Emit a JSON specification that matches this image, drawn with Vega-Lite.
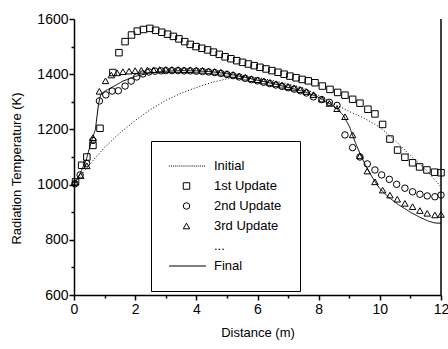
{
  "$schema": "https://vega.github.io/schema/vega-lite/v6.json",
  "width": 367,
  "height": 276,
  "autosize": "none",
  "padding": {"left": 74, "top": 19, "right": 7, "bottom": 54},
  "background": "white",
  "config": {
    "view": {"stroke": null},
    "font": "Liberation Sans",
    "axis": {
      "domainColor": "black", "tickColor": "black", "labelColor": "black", "titleColor": "black",
      "labelFontSize": 14, "titleFontSize": 13, "titleFontWeight": "normal",
      "labelFont": "Liberation Sans", "titleFont": "Liberation Sans",
      "domainWidth": 1.5, "tickWidth": 1.5, "grid": false, "labelFlush": false
    }
  },
  "datasets": {
    "curves": [
      {"s": "Initial", "x": 0, "y": 1000}, {"s": "Initial", "x": 0.5, "y": 1072}, {"s": "Initial", "x": 1.0, "y": 1135},
      {"s": "Initial", "x": 1.5, "y": 1187}, {"s": "Initial", "x": 2.0, "y": 1232}, {"s": "Initial", "x": 2.5, "y": 1272},
      {"s": "Initial", "x": 3.0, "y": 1305}, {"s": "Initial", "x": 3.5, "y": 1331}, {"s": "Initial", "x": 4.0, "y": 1352},
      {"s": "Initial", "x": 4.5, "y": 1370}, {"s": "Initial", "x": 5.0, "y": 1383}, {"s": "Initial", "x": 5.5, "y": 1391},
      {"s": "Initial", "x": 6.0, "y": 1388}, {"s": "Initial", "x": 6.5, "y": 1377}, {"s": "Initial", "x": 7.0, "y": 1365},
      {"s": "Initial", "x": 7.5, "y": 1350}, {"s": "Initial", "x": 8.0, "y": 1323}, {"s": "Initial", "x": 8.5, "y": 1292},
      {"s": "Initial", "x": 9.0, "y": 1265}, {"s": "Initial", "x": 9.5, "y": 1240}, {"s": "Initial", "x": 10.0, "y": 1208},
      {"s": "Initial", "x": 10.5, "y": 1160}, {"s": "Initial", "x": 11.0, "y": 1105}, {"s": "Initial", "x": 11.5, "y": 1055},
      {"s": "Initial", "x": 12.0, "y": 992},
      {"s": "Final", "x": 0, "y": 1000}, {"s": "Final", "x": 0.2, "y": 1040}, {"s": "Final", "x": 0.4, "y": 1090},
      {"s": "Final", "x": 0.55, "y": 1150}, {"s": "Final", "x": 0.7, "y": 1200}, {"s": "Final", "x": 0.8, "y": 1290},
      {"s": "Final", "x": 0.87, "y": 1326}, {"s": "Final", "x": 1.0, "y": 1338}, {"s": "Final", "x": 1.3, "y": 1356},
      {"s": "Final", "x": 1.6, "y": 1375}, {"s": "Final", "x": 2.0, "y": 1392}, {"s": "Final", "x": 2.5, "y": 1405},
      {"s": "Final", "x": 3.0, "y": 1411}, {"s": "Final", "x": 3.5, "y": 1413}, {"s": "Final", "x": 4.0, "y": 1412},
      {"s": "Final", "x": 4.5, "y": 1409}, {"s": "Final", "x": 5.0, "y": 1402}, {"s": "Final", "x": 5.5, "y": 1391},
      {"s": "Final", "x": 6.0, "y": 1378}, {"s": "Final", "x": 6.5, "y": 1366}, {"s": "Final", "x": 7.0, "y": 1352},
      {"s": "Final", "x": 7.5, "y": 1338}, {"s": "Final", "x": 8.0, "y": 1316}, {"s": "Final", "x": 8.5, "y": 1284},
      {"s": "Final", "x": 8.8, "y": 1252}, {"s": "Final", "x": 9.0, "y": 1212}, {"s": "Final", "x": 9.2, "y": 1152},
      {"s": "Final", "x": 9.4, "y": 1100}, {"s": "Final", "x": 9.6, "y": 1055}, {"s": "Final", "x": 9.8, "y": 1018},
      {"s": "Final", "x": 10.0, "y": 985}, {"s": "Final", "x": 10.3, "y": 953}, {"s": "Final", "x": 10.6, "y": 928},
      {"s": "Final", "x": 11.0, "y": 900}, {"s": "Final", "x": 11.3, "y": 882}, {"s": "Final", "x": 11.6, "y": 867},
      {"s": "Final", "x": 11.8, "y": 861}, {"s": "Final", "x": 12.0, "y": 860}
    ],
    "pts": [
      {"s": "1st Update", "x": 0.05, "y": 1010}, {"s": "1st Update", "x": 0.25, "y": 1070}, {"s": "1st Update", "x": 0.42, "y": 1100},
      {"s": "1st Update", "x": 0.62, "y": 1142}, {"s": "1st Update", "x": 0.85, "y": 1204}, {"s": "1st Update", "x": 1.27, "y": 1406},
      {"s": "1st Update", "x": 1.47, "y": 1478}, {"s": "1st Update", "x": 1.67, "y": 1518}, {"s": "1st Update", "x": 1.88, "y": 1542},
      {"s": "1st Update", "x": 2.07, "y": 1556}, {"s": "1st Update", "x": 2.27, "y": 1562}, {"s": "1st Update", "x": 2.48, "y": 1566},
      {"s": "1st Update", "x": 2.67, "y": 1559}, {"s": "1st Update", "x": 2.87, "y": 1552}, {"s": "1st Update", "x": 3.06, "y": 1545},
      {"s": "1st Update", "x": 3.25, "y": 1537}, {"s": "1st Update", "x": 3.43, "y": 1528}, {"s": "1st Update", "x": 3.62, "y": 1518},
      {"s": "1st Update", "x": 3.8, "y": 1508}, {"s": "1st Update", "x": 3.99, "y": 1500}, {"s": "1st Update", "x": 4.18, "y": 1494},
      {"s": "1st Update", "x": 4.37, "y": 1488}, {"s": "1st Update", "x": 4.56, "y": 1480}, {"s": "1st Update", "x": 4.75, "y": 1472},
      {"s": "1st Update", "x": 4.94, "y": 1463}, {"s": "1st Update", "x": 5.13, "y": 1456}, {"s": "1st Update", "x": 5.32, "y": 1449},
      {"s": "1st Update", "x": 5.51, "y": 1443}, {"s": "1st Update", "x": 5.7, "y": 1437}, {"s": "1st Update", "x": 5.89, "y": 1431},
      {"s": "1st Update", "x": 6.08, "y": 1425}, {"s": "1st Update", "x": 6.28, "y": 1419}, {"s": "1st Update", "x": 6.47, "y": 1413},
      {"s": "1st Update", "x": 6.67, "y": 1407}, {"s": "1st Update", "x": 6.87, "y": 1400}, {"s": "1st Update", "x": 7.06, "y": 1393},
      {"s": "1st Update", "x": 7.26, "y": 1387}, {"s": "1st Update", "x": 7.46, "y": 1381}, {"s": "1st Update", "x": 7.66, "y": 1376},
      {"s": "1st Update", "x": 7.88, "y": 1369}, {"s": "1st Update", "x": 8.12, "y": 1357}, {"s": "1st Update", "x": 8.37, "y": 1345},
      {"s": "1st Update", "x": 8.62, "y": 1334}, {"s": "1st Update", "x": 8.86, "y": 1324}, {"s": "1st Update", "x": 9.11, "y": 1309},
      {"s": "1st Update", "x": 9.35, "y": 1295}, {"s": "1st Update", "x": 9.61, "y": 1273}, {"s": "1st Update", "x": 9.84, "y": 1256},
      {"s": "1st Update", "x": 10.09, "y": 1218}, {"s": "1st Update", "x": 10.33, "y": 1165}, {"s": "1st Update", "x": 10.58, "y": 1125},
      {"s": "1st Update", "x": 10.82, "y": 1099}, {"s": "1st Update", "x": 11.07, "y": 1079}, {"s": "1st Update", "x": 11.3, "y": 1064},
      {"s": "1st Update", "x": 11.54, "y": 1053}, {"s": "1st Update", "x": 11.79, "y": 1045}, {"s": "1st Update", "x": 12.0, "y": 1043},

      {"s": "2nd Update", "x": 0.03, "y": 1003}, {"s": "2nd Update", "x": 0.2, "y": 1035}, {"s": "2nd Update", "x": 0.41, "y": 1077},
      {"s": "2nd Update", "x": 0.62, "y": 1160}, {"s": "2nd Update", "x": 0.83, "y": 1303}, {"s": "2nd Update", "x": 1.04, "y": 1325},
      {"s": "2nd Update", "x": 1.25, "y": 1339}, {"s": "2nd Update", "x": 1.45, "y": 1340}, {"s": "2nd Update", "x": 1.67, "y": 1357},
      {"s": "2nd Update", "x": 1.87, "y": 1375}, {"s": "2nd Update", "x": 2.05, "y": 1390}, {"s": "2nd Update", "x": 2.25, "y": 1401},
      {"s": "2nd Update", "x": 2.45, "y": 1408}, {"s": "2nd Update", "x": 2.65, "y": 1411}, {"s": "2nd Update", "x": 2.85, "y": 1412},
      {"s": "2nd Update", "x": 3.0, "y": 1413}, {"s": "2nd Update", "x": 3.2, "y": 1413}, {"s": "2nd Update", "x": 3.4, "y": 1413},
      {"s": "2nd Update", "x": 3.6, "y": 1412}, {"s": "2nd Update", "x": 3.8, "y": 1412}, {"s": "2nd Update", "x": 4.0, "y": 1411},
      {"s": "2nd Update", "x": 4.2, "y": 1410}, {"s": "2nd Update", "x": 4.4, "y": 1408}, {"s": "2nd Update", "x": 4.6, "y": 1406},
      {"s": "2nd Update", "x": 4.8, "y": 1403}, {"s": "2nd Update", "x": 5.0, "y": 1399}, {"s": "2nd Update", "x": 5.2, "y": 1395},
      {"s": "2nd Update", "x": 5.4, "y": 1390}, {"s": "2nd Update", "x": 5.6, "y": 1385}, {"s": "2nd Update", "x": 5.8, "y": 1380},
      {"s": "2nd Update", "x": 6.0, "y": 1376}, {"s": "2nd Update", "x": 6.2, "y": 1371}, {"s": "2nd Update", "x": 6.4, "y": 1366},
      {"s": "2nd Update", "x": 6.6, "y": 1361}, {"s": "2nd Update", "x": 6.8, "y": 1356}, {"s": "2nd Update", "x": 7.0, "y": 1351},
      {"s": "2nd Update", "x": 7.2, "y": 1346}, {"s": "2nd Update", "x": 7.4, "y": 1340}, {"s": "2nd Update", "x": 7.6, "y": 1332},
      {"s": "2nd Update", "x": 7.83, "y": 1318}, {"s": "2nd Update", "x": 8.1, "y": 1308}, {"s": "2nd Update", "x": 8.35, "y": 1298},
      {"s": "2nd Update", "x": 8.6, "y": 1287}, {"s": "2nd Update", "x": 8.86, "y": 1180}, {"s": "2nd Update", "x": 9.11, "y": 1134},
      {"s": "2nd Update", "x": 9.35, "y": 1100}, {"s": "2nd Update", "x": 9.59, "y": 1075}, {"s": "2nd Update", "x": 9.84, "y": 1053},
      {"s": "2nd Update", "x": 10.06, "y": 1035}, {"s": "2nd Update", "x": 10.31, "y": 1019}, {"s": "2nd Update", "x": 10.55, "y": 1001},
      {"s": "2nd Update", "x": 10.82, "y": 987}, {"s": "2nd Update", "x": 11.07, "y": 974}, {"s": "2nd Update", "x": 11.31, "y": 965},
      {"s": "2nd Update", "x": 11.55, "y": 959}, {"s": "2nd Update", "x": 11.8, "y": 956}, {"s": "2nd Update", "x": 12.0, "y": 962},

      {"s": "3rd Update", "x": 0.03, "y": 1008}, {"s": "3rd Update", "x": 0.22, "y": 1032}, {"s": "3rd Update", "x": 0.42, "y": 1068},
      {"s": "3rd Update", "x": 0.62, "y": 1170}, {"s": "3rd Update", "x": 0.83, "y": 1338}, {"s": "3rd Update", "x": 1.03, "y": 1376},
      {"s": "3rd Update", "x": 1.22, "y": 1397}, {"s": "3rd Update", "x": 1.41, "y": 1405}, {"s": "3rd Update", "x": 1.6, "y": 1409},
      {"s": "3rd Update", "x": 1.8, "y": 1411}, {"s": "3rd Update", "x": 2.0, "y": 1413}, {"s": "3rd Update", "x": 2.2, "y": 1414},
      {"s": "3rd Update", "x": 2.4, "y": 1415}, {"s": "3rd Update", "x": 2.6, "y": 1416}, {"s": "3rd Update", "x": 2.8, "y": 1417},
      {"s": "3rd Update", "x": 3.0, "y": 1417}, {"s": "3rd Update", "x": 3.2, "y": 1417}, {"s": "3rd Update", "x": 3.4, "y": 1417},
      {"s": "3rd Update", "x": 3.6, "y": 1416}, {"s": "3rd Update", "x": 3.8, "y": 1416}, {"s": "3rd Update", "x": 4.0, "y": 1415},
      {"s": "3rd Update", "x": 4.2, "y": 1414}, {"s": "3rd Update", "x": 4.4, "y": 1412}, {"s": "3rd Update", "x": 4.6, "y": 1410},
      {"s": "3rd Update", "x": 4.8, "y": 1407}, {"s": "3rd Update", "x": 5.0, "y": 1403}, {"s": "3rd Update", "x": 5.2, "y": 1399},
      {"s": "3rd Update", "x": 5.4, "y": 1394}, {"s": "3rd Update", "x": 5.6, "y": 1389}, {"s": "3rd Update", "x": 5.8, "y": 1384},
      {"s": "3rd Update", "x": 6.0, "y": 1380}, {"s": "3rd Update", "x": 6.2, "y": 1375}, {"s": "3rd Update", "x": 6.4, "y": 1370},
      {"s": "3rd Update", "x": 6.6, "y": 1365}, {"s": "3rd Update", "x": 6.8, "y": 1360}, {"s": "3rd Update", "x": 7.0, "y": 1355},
      {"s": "3rd Update", "x": 7.2, "y": 1350}, {"s": "3rd Update", "x": 7.4, "y": 1344}, {"s": "3rd Update", "x": 7.6, "y": 1337},
      {"s": "3rd Update", "x": 7.83, "y": 1326}, {"s": "3rd Update", "x": 8.1, "y": 1310}, {"s": "3rd Update", "x": 8.35, "y": 1294},
      {"s": "3rd Update", "x": 8.6, "y": 1275}, {"s": "3rd Update", "x": 8.86, "y": 1246}, {"s": "3rd Update", "x": 9.11, "y": 1180},
      {"s": "3rd Update", "x": 9.35, "y": 1104}, {"s": "3rd Update", "x": 9.59, "y": 1049}, {"s": "3rd Update", "x": 9.84, "y": 1010},
      {"s": "3rd Update", "x": 10.09, "y": 980}, {"s": "3rd Update", "x": 10.33, "y": 962}, {"s": "3rd Update", "x": 10.57, "y": 947},
      {"s": "3rd Update", "x": 10.82, "y": 932}, {"s": "3rd Update", "x": 11.07, "y": 920}, {"s": "3rd Update", "x": 11.31, "y": 906},
      {"s": "3rd Update", "x": 11.55, "y": 896}, {"s": "3rd Update", "x": 11.8, "y": 890}, {"s": "3rd Update", "x": 12.0, "y": 892}
    ],
    "edge": [{"x": 12}]
  },
  "layer": [
    {
      "data": {"name": "curves"},
      "mark": {"type": "line", "color": "black", "strokeWidth": 1},
      "encoding": {
        "x": {"field": "x", "type": "quantitative", "scale": {"domain": [0, 12], "nice": false, "zero": false},
              "axis": {"values": [0, 2, 4, 6, 8, 10, 12], "format": "d", "title": "Distance (m)", "tickSize": 5, "labelPadding": 2, "titlePadding": 10, "orient": "bottom"}},
        "y": {"field": "y", "type": "quantitative", "scale": {"domain": [600, 1600], "nice": false, "zero": false},
              "axis": {"values": [600, 800, 1000, 1200, 1400, 1600], "format": "d", "title": "Radiation Temperature (K)", "tickSize": 5, "labelPadding": 1, "titleX": -51, "titleY": 149, "orient": "left"}},
        "strokeDash": {"field": "s", "type": "nominal", "scale": {"domain": ["Initial", "Final"], "range": [[1, 2], [1, 0]]}, "legend": null}
      }
    },
    {
      "data": {"name": "pts"},
      "mark": {"type": "point", "filled": false, "stroke": "black", "strokeWidth": 1, "size": 42, "opacity": 1},
      "encoding": {
        "x": {"field": "x", "type": "quantitative", "scale": {"domain": [0, 12], "nice": false, "zero": false},
              "axis": {"values": [1, 3, 5, 7, 9, 11], "labels": false, "title": null, "tickSize": 3, "domain": false, "orient": "bottom"}},
        "y": {"field": "y", "type": "quantitative", "scale": {"domain": [600, 1600], "nice": false, "zero": false},
              "axis": {"values": [700, 900, 1100, 1300, 1500], "labels": false, "title": null, "tickSize": 3, "domain": false, "orient": "left"}},
        "shape": {
          "field": "s", "type": "nominal",
          "scale": {
            "domain": ["Initial", "1st Update", "2nd Update", "3rd Update", "...", "Final"],
            "range": [
              "M-6,0h0.3m0.3,0h0.3m0.3,0h0.3m0.3,0h0.3m0.3,0h0.3m0.3,0h0.3m0.3,0h0.3m0.3,0h0.3m0.3,0h0.3m0.3,0h0.3m0.3,0h0.3m0.3,0h0.3m0.3,0h0.3m0.3,0h0.3m0.3,0h0.3m0.3,0h0.3m0.3,0h0.3m0.3,0h0.3m0.3,0h0.3m0.3,0h0.3",
              "square", "circle", "triangle-up", "M0,0", "M-6,0H6"
            ]
          },
          "legend": {
            "orient": "none", "legendX": 77, "legendY": 122, "title": null,
            "padding": 18, "strokeColor": "black", "fillColor": "white",
            "symbolSize": 42, "symbolStrokeWidth": 1, "symbolStrokeColor": "black", "symbolFillColor": "transparent",
            "symbolOffset": 11, "labelOffset": 21, "labelFontSize": 13, "labelFont": "Liberation Sans", "labelColor": "black",
            "rowPadding": 6, "clipHeight": 14
          }
        }
      }
    },
    {
      "data": {"name": "edge"},
      "mark": {"type": "rule", "color": "black", "strokeWidth": 1.5},
      "encoding": {
        "x": {"field": "x", "type": "quantitative", "scale": {"domain": [0, 12], "nice": false, "zero": false}, "axis": null}
      }
    }
  ],
  "resolve": {"axis": {"x": "independent", "y": "independent"}}
}
